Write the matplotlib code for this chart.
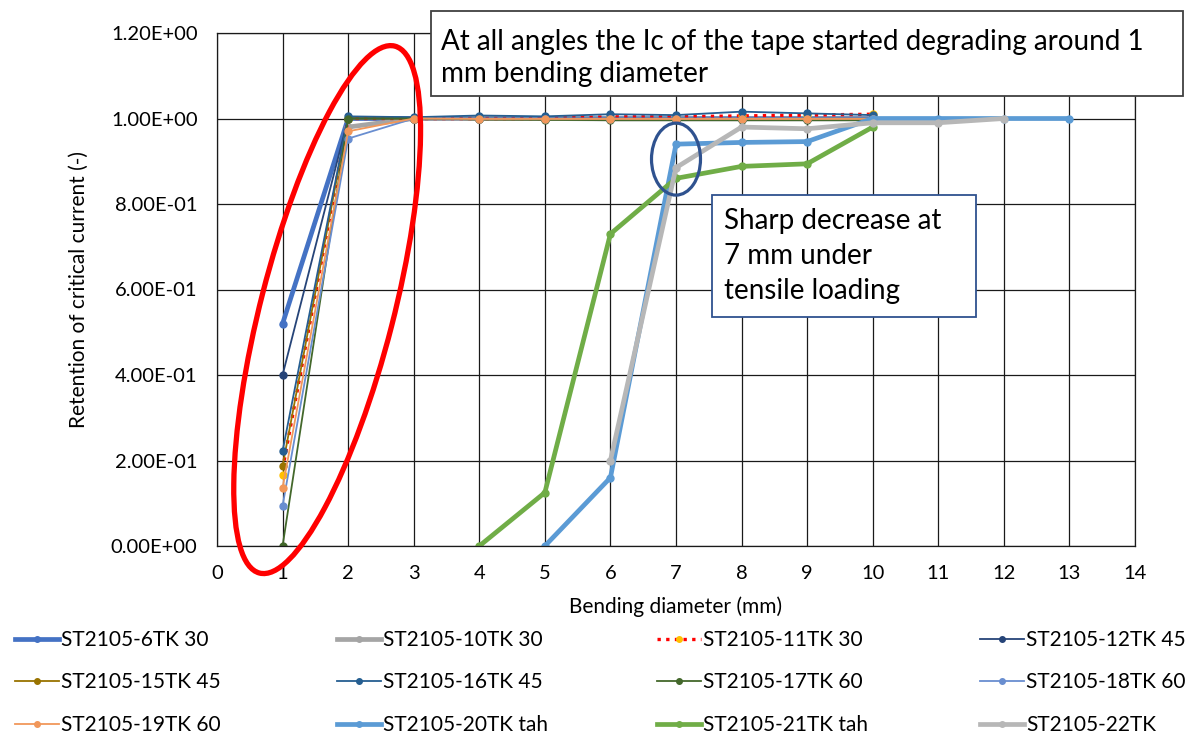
import numpy as np
import matplotlib
matplotlib.use("Agg")
from matplotlib import pyplot as plt
from matplotlib.patches import Ellipse, Rectangle
from matplotlib.transforms import ScaledTranslation

plt.rcParams['font.family'] = ['Lato', 'DejaVu Sans']

# Biegedurchmesser (mm) und Ic-Retention je Probe
d_short = [1, 2, 3, 4, 5, 6, 7, 8, 9, 10]
tk6_30 = [0.52, 1.00, 1.00, 1.00, 1.00, 1.00, 1.00, 1.00, 1.00, 1.00]
d_10 = [2, 3, 4, 5, 6, 7, 8, 9, 10]
tk10_30 = [0.98, 1.00, 1.00, 1.00, 0.999, 0.999, 0.999, 0.999, 0.999]
tk11_30 = [0.18, 1.00, 1.00, 1.00, 1.00, 1.004, 1.004, 1.006, 1.008, 1.01]
tk11_30_marker = [0.165, 1.00, 1.00, 1.00, 1.00, 1.004, 1.004, 1.006, 1.008, 1.01]
tk12_45 = [0.40, 1.00, 1.00, 1.00, 1.00, 1.00, 1.00, 1.00, 1.00, 1.00]
tk15_45 = [0.187, 1.00, 1.00, 0.998, 0.998, 0.998, 0.998, 0.998, 0.998, 0.998]
tk16_45 = [0.222, 1.005, 1.003, 1.007, 1.005, 1.01, 1.008, 1.016, 1.012, 1.008]
tk17_60 = [0.0, 1.00, 1.00, 0.998, 0.997, 0.996, 0.996, 0.996, 0.996, 0.996]
tk18_60 = [0.094, 0.953, 1.00, 1.00, 1.00, 1.00, 1.00, 1.00, 1.00, 1.00]
tk19_60 = [0.136, 0.97, 1.00, 0.999, 0.999, 0.999, 0.999, 0.999, 0.999, 0.999]
d_20 = [5, 6, 7, 8, 9, 10, 11, 12, 13]
tk20_tah = [0.0, 0.16, 0.94, 0.944, 0.946, 1.00, 1.00, 1.00, 1.00]
d_21 = [4, 5, 6, 7, 8, 9, 10]
tk21_tah = [0.0, 0.125, 0.73, 0.86, 0.888, 0.894, 0.98]
d_22 = [6, 7, 8, 9, 10, 11, 12]
tk22 = [0.2, 0.885, 0.98, 0.976, 0.99, 0.99, 1.00]

W, H = 1186, 735
fig = plt.figure(figsize=(W/100, H/100), dpi=100)
ax = fig.add_axes([217/W, 1 - 546/H, (1135 - 217)/W, (546 - 33)/H])

thin = dict(lw=1.3, marker='o', ms=5)
thick = dict(lw=3.4, marker='o', ms=5)

h = {}
h['6'], = ax.plot(d_short, tk6_30, color='#4472C4', label='ST2105-6TK 30', **thick)
h['10'], = ax.plot(d_10, tk10_30, color='#A5A5A5', label='ST2105-10TK 30', **thick)
# rot gepunktete Linie mit gelben Markern
ax.plot(d_short, tk11_30, color='#FF0000', lw=2.4, ls=(0, (1, 1.6)))
ax.plot(d_short, tk11_30_marker, ls='none', marker='o', ms=5, color='#FFC000')
h['11'], = ax.plot([], [], color='#FF0000', lw=2.4, ls=(0, (1, 1.6)), marker='o', ms=5,
                   mfc='#FFC000', mec='#FFC000', label='ST2105-11TK 30')
h['12'], = ax.plot(d_short, tk12_45, color='#264478', label='ST2105-12TK 45', **thin)
h['15'], = ax.plot(d_short, tk15_45, color='#997300', label='ST2105-15TK 45', **thin)
h['16'], = ax.plot(d_short, tk16_45, color='#255E91', label='ST2105-16TK 45', **thin)
h['17'], = ax.plot(d_short, tk17_60, color='#43682B', label='ST2105-17TK 60', **thin)
h['18'], = ax.plot(d_short, tk18_60, color='#698ED0', label='ST2105-18TK 60', **thin)
h['19'], = ax.plot(d_short, tk19_60, color='#F1975A', label='ST2105-19TK 60', **thin)
h['20'], = ax.plot(d_20, tk20_tah, color='#5B9BD5', label='ST2105-20TK tah', **thick)
h['21'], = ax.plot(d_21, tk21_tah, color='#70AD47', label='ST2105-21TK tah', **thick)
h['22'], = ax.plot(d_22, tk22, color='#B7B7B7', label='ST2105-22TK', **thick)

ax.set_xlim(0, 14)
ax.set_ylim(0, 1.2)
ax.set_xticks(np.arange(0, 15, 1))
ax.set_yticks(np.arange(0, 1.21, 0.2))
ax.set_yticklabels(['{:.2E}'.format(v) for v in np.arange(0, 1.21, 0.2)])
ax.grid(True, color='#1a1a1a', lw=0.9)
ax.set_axisbelow(True)
for s in ax.spines.values():
    s.set_color('#1a1a1a')
    s.set_linewidth(0.9)
ax.tick_params(length=0, labelsize=14.5)
ax.tick_params(axis='y', pad=14)
ax.tick_params(axis='x', pad=14)
ax.set_xlabel('Bending diameter (mm)', fontsize=15, labelpad=10)
ax.set_ylabel('Retention of critical current (-)', fontsize=15, labelpad=16)

# Markierungen: rote Ellipse um 1-2 mm, blaue Ellipse bei 7 mm
off_red = fig.dpi_scale_trans + ScaledTranslation(1.68, 0.553, ax.transData)
ax.add_patch(Ellipse((0, 0), 1.33, 5.44, angle=-14.4, fill=False, ec='#FF0000',
                     lw=3.8, transform=off_red, clip_on=False, zorder=5))
off_blue = fig.dpi_scale_trans + ScaledTranslation(7.0, 0.905, ax.transData)
ax.add_patch(Ellipse((0, 0), 0.49, 0.72, fill=False, ec='#2F528F',
                     lw=2.3, transform=off_blue, clip_on=False, zorder=5))

# Textfelder mit festen Rahmen (Pixelangaben)
def textbox(x0, y0, x1, y1, ec, txt, tx, ty, ls):
    fig.patches.append(Rectangle((x0/W, 1 - y1/H), (x1 - x0)/W, (y1 - y0)/H,
                                 transform=fig.transFigure, fc='white', ec=ec,
                                 lw=1.3, zorder=6))
    fig.text(tx/W, 1 - ty/H, txt, fontsize=20, va='center', ha='left',
             linespacing=ls, zorder=7)

textbox(431, 11, 1183, 96, '#404040',
        'At all angles the Ic of the tape started degrading around 1\nmm bending diameter',
        441, 58, 1.31)
textbox(712, 195, 976, 317, '#2F528F',
        'Sharp decrease at\n7 mm under\ntensile loading', 724, 256, 1.44)

# Legende: vier Spalten, je eine Legende pro Spalte
columns = [['6', '15', '19'], ['10', '16', '20'], ['11', '17', '21'], ['12', '18', '22']]
col_x = [15, 337, 657, 980]
for keys, x0 in zip(columns, col_x):
    leg = fig.legend([h[k] for k in keys], [h[k].get_label() for k in keys],
                     loc='upper left', bbox_to_anchor=(x0/W, 1 - 630/H),
                     frameon=False, fontsize=15, handlelength=2.1, handletextpad=0.1,
                     labelspacing=1.08, borderaxespad=0, borderpad=0, markerscale=0.8)

fig.savefig('out.png', dpi=100)
